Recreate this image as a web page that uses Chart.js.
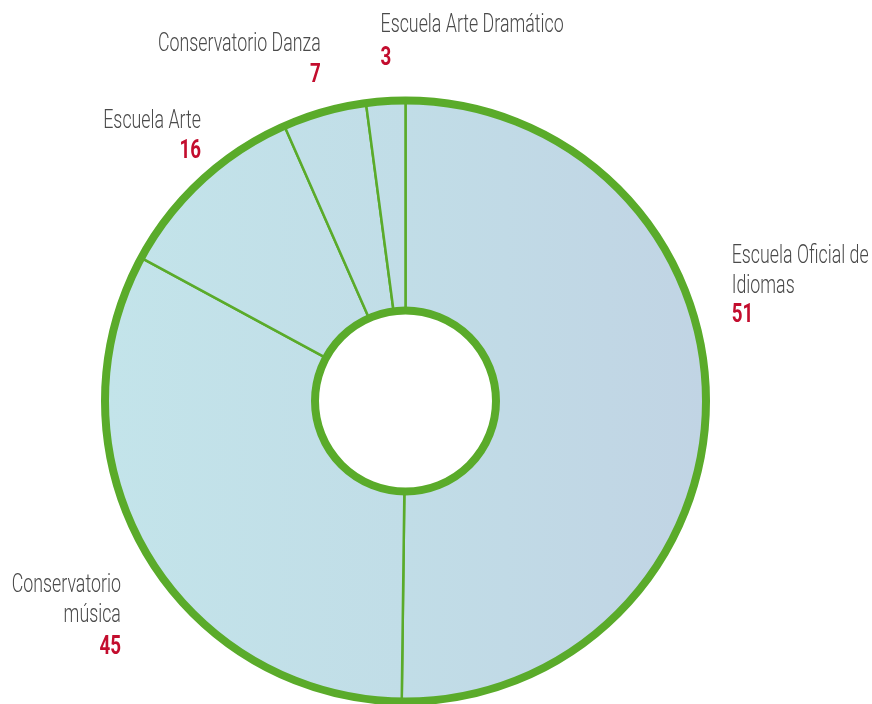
<!DOCTYPE html>
<html>
<head>
<meta charset="utf-8">
<script src="https://cdn.jsdelivr.net/npm/chart.js@4.4.1/dist/chart.umd.min.js"></script>
<style>
  html, body { margin: 0; padding: 0; background: #ffffff; }
  #wrap { position: relative; width: 872px; height: 704px; }
</style>
</head>
<body>
<div id="wrap"><canvas id="c"></canvas></div>
<script>
// ---- data ----
const categories = ['Escuela Oficial de Idiomas', 'Conservatorio música', 'Escuela Arte', 'Conservatorio Danza', 'Escuela Arte Dramático'];
const labelLines = [['Escuela Oficial de', 'Idiomas'], ['Conservatorio', 'música'], ['Escuela Arte'], ['Conservatorio Danza'], ['Escuela Arte Dramático']];
const counts = [51, 45, 16, 7, 3];
// slice sizes (share of the ring, %)
const sliceShares = [50.2, 32.7, 10.5, 4.5, 2.1];

const GREEN = '#5aab2a';
const RED = '#c30d2e';
const GREY = '#4a4a4a';

const ringPlugin = {
  id: 'ringPlugin',
  afterDatasetsDraw(chart, args, opts) {
    const meta = chart.getDatasetMeta(0);
    if (!meta.data.length) return;
    const arc = meta.data[0];
    const { x, y, outerRadius, innerRadius } = arc.getProps(['x', 'y', 'outerRadius', 'innerRadius'], true);
    const ctx = chart.ctx;
    ctx.save();
    ctx.strokeStyle = opts.color;
    ctx.lineWidth = opts.width;
    ctx.beginPath();
    ctx.arc(x, y, outerRadius, 0, Math.PI * 2);
    ctx.stroke();
    ctx.beginPath();
    ctx.arc(x, y, innerRadius, 0, Math.PI * 2);
    ctx.stroke();
    ctx.restore();
  }
};

const labelPlugin = {
  id: 'labelPlugin',
  afterDraw(chart, args, opts) {
    const meta = chart.getDatasetMeta(0);
    const ctx = chart.ctx;
    meta.data.forEach((arc, i) => {
      const p = arc.getProps(['x', 'y', 'startAngle', 'endAngle', 'outerRadius'], true);
      const mid = (p.startAngle + p.endAngle) / 2;
      const r = p.outerRadius + opts.ringHalf;
      const ax = p.x + Math.cos(mid) * r;
      const ay = p.y + Math.sin(mid) * r;
      const pl = opts.placements[i];
      const bx = ax + pl.dx;
      let by = ay + pl.dy;
      const lines = labelLines[i];
      ctx.save();
      ctx.textAlign = pl.align;
      ctx.textBaseline = 'alphabetic';
      lines.forEach((ln, k) => {
        ctx.save();
        ctx.translate(bx, by + k * opts.lineHeight);
        ctx.scale(opts.textScale, 1);
        ctx.font = opts.textFont;
        ctx.fillStyle = GREY;
        ctx.fillText(ln, 0, 0);
        ctx.restore();
      });
      const ny = by + (lines.length - 1) * opts.lineHeight + pl.numGap;
      ctx.save();
      ctx.translate(bx, ny);
      ctx.scale(opts.numScale, 1);
      ctx.font = opts.numFont;
      ctx.fillStyle = RED;
      ctx.fillText(String(counts[i]), 0, 0);
      ctx.restore();
      ctx.restore();
    });
  }
};

function fillGradient(context) {
  const chart = context.chart;
  const a = chart.chartArea;
  if (!a) return '#c2dde8';
  const cx = (a.left + a.right) / 2;
  const r = Math.min(a.right - a.left, a.bottom - a.top) / 2;
  const g = chart.ctx.createLinearGradient(cx - r, 0, cx + r, 0);
  g.addColorStop(0, '#c3e4ea');
  g.addColorStop(0.5, '#c1dde7');
  g.addColorStop(1, '#c1d4e4');
  return g;
}

new Chart(document.getElementById('c'), {
  type: 'doughnut',
  data: {
    labels: categories,
    datasets: [{
      data: sliceShares,
      backgroundColor: fillGradient,
      borderColor: GREEN,
      borderWidth: 2.5,
      hoverOffset: 0
    }]
  },
  options: {
    responsive: true,
    maintainAspectRatio: false,
    animation: false,
    events: [],
    cutout: 90.5,
    rotation: 0,
    layout: { padding: { left: 0, right: 61, top: 99.25, bottom: 1.25 } },
    plugins: {
      legend: { display: false },
      tooltip: { enabled: false },
      ringPlugin: { color: GREEN, width: 8 },
      labelPlugin: {
        ringHalf: 4,
        lineHeight: 30,
        textFont: '300 26px Roboto, "Open Sans", sans-serif',
        textScale: 0.685,
        numFont: 'bold 25px Roboto, "Open Sans", sans-serif',
        numScale: 0.75,
        placements: [
          { align: 'left', dx: 21.7, dy: -139.6, numGap: 29 },
          { align: 'right', dx: -22, dy: 37, numGap: 32 },
          { align: 'right', dx: 1.8, dy: -49.3, numGap: 30.3 },
          { align: 'right', dx: -2.6, dy: -57, numGap: 31.3 },
          { align: 'left', dx: -4.9, dy: -64.8, numGap: 32.5 }
        ]
      }
    }
  },
  plugins: [ringPlugin, labelPlugin]
});
</script>
</body>
</html>
